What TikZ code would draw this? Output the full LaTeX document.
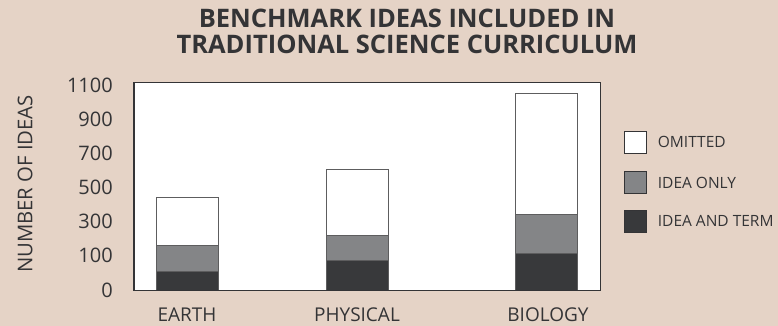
\documentclass[tikz,border=0pt]{standalone}
\usepackage{fontspec}
\setmainfont{Open Sans}
\definecolor{bg}{RGB}{229,211,198}
\definecolor{ink}{RGB}{52,52,54}
\definecolor{midgray}{RGB}{132,133,135}
\definecolor{darkfill}{RGB}{56,57,59}
\begin{document}
\begin{tikzpicture}[x=1pt,y=-1pt,
  txt/.style={inner sep=0pt,text=ink},
  ticklab/.style={txt,anchor=east,font=\fontsize{20}{20}\selectfont},
  catlab/.style={txt,font=\fontsize{19}{19}\selectfont},
  leglab/.style={txt,anchor=west,font=\fontsize{15.5}{16}\selectfont},
  frame/.style={draw=ink,line width=1.3pt,fill=white},
  seg/.style={draw=ink!80,line width=1pt},
  omit/.style={seg,fill=white},
  ideaonly/.style={seg,fill=midgray},
  ideaterm/.style={seg,fill=darkfill},
  legbox/.style={draw=ink,line width=1pt,minimum width=22pt,minimum height=22pt,inner sep=0pt}]
\fill[bg] (0,0) rectangle (778,326);
\useasboundingbox (0,0) rectangle (778,326);
% title
\node[txt,align=center,font=\fontsize{25.5}{26}\bfseries\selectfont] (title) at (407,31) {BENCHMARK IDEAS INCLUDED IN\\TRADITIONAL SCIENCE CURRICULUM};
% frame
\draw[frame] (134,82.7) rectangle (600.3,290.7);
% bars
\draw[omit] (156.7,197.7) rectangle (218.3,245);
\draw[ideaonly] (156.7,245) rectangle (218.3,271);
\draw[ideaterm] (156.7,271) rectangle (218.3,290.7);
\draw[omit] (326,169.3) rectangle (388,235.7);
\draw[ideaonly] (326,235.7) rectangle (388,260);
\draw[ideaterm] (326,260) rectangle (388,290.7);
\draw[omit] (515.3,93.3) rectangle (577,214);
\draw[ideaonly] (515.3,214) rectangle (577,253.7);
\draw[ideaterm] (515.3,253.7) rectangle (577,290.7);
\draw[ink,line width=1.3pt] (134,290.7) -- (600.3,290.7);
% tick labels
\node[ticklab] (t1100) at (113,85) {1100};
\node[ticklab] (t900) at (113,119.3) {900};
\node[ticklab] (t700) at (113,153.3) {700};
\node[ticklab] (t500) at (113,187.3) {500};
\node[ticklab] (t300) at (113,221.7) {300};
\node[ticklab] (t100) at (113,255.7) {100};
\node[ticklab] (t0) at (113,290) {0};
% axis title
\node[txt,rotate=90,font=\fontsize{20.3}{21}\selectfont] (ytitle) at (25,184) {NUMBER OF IDEAS};
% categories
\node[catlab] (earth) at (187,315) {EARTH};
\node[catlab] (phys) at (357,315) {PHYSICAL};
\node[catlab] (bio) at (548,315) {BIOLOGY};
% legend
\node[legbox,fill=white] (lo) at (635,142) {};
\node[legbox,fill=midgray] (li) at (635,182.7) {};
\node[legbox,fill=darkfill] (lt) at (635,221.3) {};
\node[leglab] (lot) at (657.7,142) {OMITTED};
\node[leglab] (lit) at (657.7,182.7) {IDEA ONLY};
\node[leglab] (ltt) at (657.7,221.3) {IDEA AND TERM};
\end{tikzpicture}
\end{document}
